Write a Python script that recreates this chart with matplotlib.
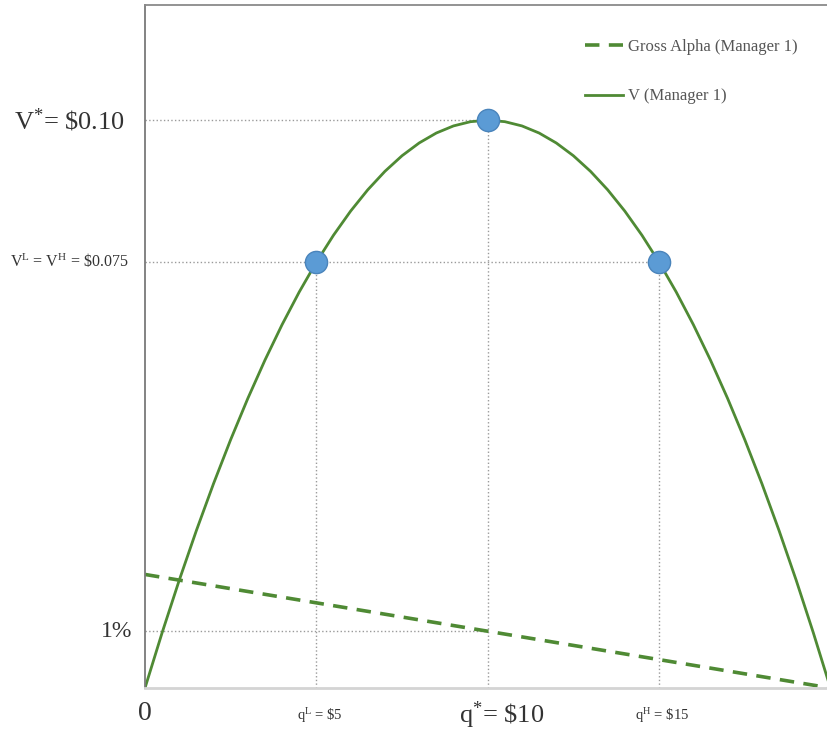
import numpy as np
import matplotlib
matplotlib.use("Agg")
import matplotlib.pyplot as plt
from matplotlib.transforms import blended_transform_factory

# quantity q ($) and value V
q = [0, 0.5, 1, 1.5, 2, 2.5, 3, 3.5, 4, 4.5, 5, 5.5, 6, 6.5, 7, 7.5, 8, 8.5, 9, 9.5, 10,
     10.5, 11, 11.5, 12, 12.5, 13, 13.5, 14, 14.5, 15, 15.5, 16, 16.5, 17, 17.5, 18, 18.5, 19, 19.5, 20]
v = [0.0, 0.00975, 0.019, 0.02775, 0.036, 0.04375, 0.051, 0.05775, 0.064, 0.06975, 0.075,
     0.07975, 0.084, 0.08775, 0.091, 0.09375, 0.096, 0.09775, 0.099, 0.09975, 0.1,
     0.09975, 0.099, 0.09775, 0.096, 0.09375, 0.091, 0.08775, 0.084, 0.07975, 0.075,
     0.06975, 0.064, 0.05775, 0.051, 0.04375, 0.036, 0.02775, 0.019, 0.00975, 0.0]

# gross alpha line end points
alpha_q = [0, 20]
alpha = [0.02, 0.0]

# highlighted points
pts_q = [5, 10, 15]
pts_v = [0.075, 0.10, 0.075]

ylabels = [r"V$^{*}$= \$0.10", r"V$^{L}$ = V$^{H}$ = \$0.075", "1%"]
ylabel_vals = [0.10, 0.075, 0.01]
ylabel_sizes = [19, 11.5, 17]
ylabel_offs = [-0.03, -0.024, -0.018]
xlabels = ["0", r"q$^{L}$ = \$5", r"q$^{*}$= \$10", r"q$^{H}$ = \$15"]
xlabel_vals = [0, 5, 10, 15]
xlabel_sizes = [20, 10.5, 19, 10.5]

plt.rcParams['font.family'] = ['Liberation Serif', 'DejaVu Serif']
plt.rcParams['mathtext.fontset'] = 'custom'
plt.rcParams['mathtext.rm'] = 'Liberation Serif'
plt.rcParams['mathtext.it'] = 'Liberation Serif'

green = '#4f8a34'
guide = '#9a9a9a'
txt = '#333333'

fig = plt.figure(figsize=(8.27, 7.30), dpi=100)
ax = fig.add_axes([145 / 827, 42 / 730, 1 - 145 / 827, 683 / 730])
ax.set_xlim(0, 19.9)
ax.set_ylim(0, 0.1203)

# dotted guide lines
ax.plot([0, 10], [0.10, 0.10], ls=':', color=guide, lw=1)
ax.plot([0, 15], [0.075, 0.075], ls=':', color=guide, lw=1)
ax.plot([0, 10], [0.01, 0.01], ls=':', color=guide, lw=1)
for x, y in zip(pts_q, pts_v):
    ax.plot([x, x], [0, y], ls=':', color=guide, lw=1)

ax.plot(alpha_q, alpha, ls=(0, (4, 2.6)), color=green, lw=2.6, label='Gross Alpha (Manager 1)')
ax.plot(q, v, color=green, lw=2, label='V (Manager 1)')
ax.plot(pts_q, pts_v, 'o', ms=16, color='#5b9bd5', mec='#4a84bb', mew=1, zorder=5)

ax.spines['right'].set_visible(False)
ax.spines['left'].set_color('#7a7a7a')
ax.spines['top'].set_color('#8a8a8a')
ax.spines['bottom'].set_color('#d4d4d4')
for s in ['left', 'top']:
    ax.spines[s].set_linewidth(1.3)
ax.spines['bottom'].set_linewidth(2)
ax.set_xticks([])
ax.set_yticks([])

tr = blended_transform_factory(ax.transAxes, ax.transData)
for lab, val, fs, off in zip(ylabels, ylabel_vals, ylabel_sizes, ylabel_offs):
    ax.text(off, val, lab, transform=tr, ha='right', va='center', fontsize=fs, color=txt)

tr2 = blended_transform_factory(ax.transData, ax.transAxes)
for lab, val, fs in zip(xlabels, xlabel_vals, xlabel_sizes):
    yoff = -0.037 if val == 0 else -0.04
    xoff = 0.4 if lab.startswith(r"q$^{*}") else 0.1
    ax.text(val + (0 if val == 0 else xoff), yoff, lab, transform=tr2, ha='center', va='center',
            fontsize=fs, color=txt)

fig.legend(loc='upper left', bbox_to_anchor=(570 / 827, 1 - 24 / 730), frameon=False,
           fontsize=12, labelspacing=2.0, handlelength=2.3, handletextpad=0.3,
           labelcolor='#555555')

fig.savefig('out.png', dpi=100)
